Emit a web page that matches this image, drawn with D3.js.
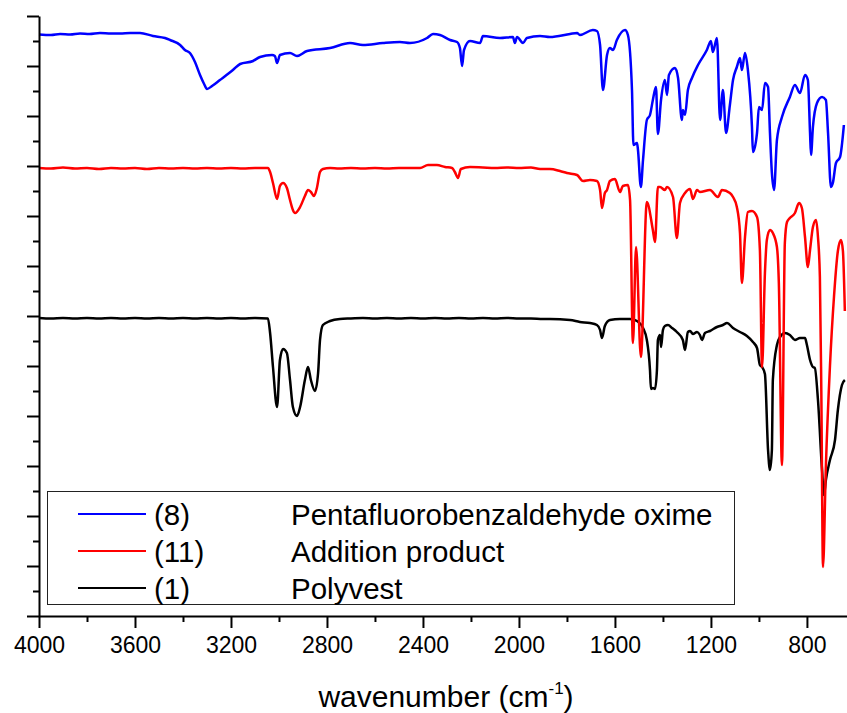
<!DOCTYPE html>
<html>
<head>
<meta charset="utf-8">
<script src="https://cdn.jsdelivr.net/npm/d3@7"></script>
<style>
  body { margin: 0; background: #fff; }
  svg { display: block; font-family: "Liberation Sans", Arial, sans-serif; }
</style>
</head>
<body>
<svg width="847" height="713"></svg>
<script>
// IR spectra, offset transmittance (arbitrary units, 1 unit = one major tick)
var xTicks = [4000, 3600, 3200, 2800, 2400, 2000, 1600, 1200, 800];

var oxime = [[4000,11.63],[3950,11.62],[3912,11.64],[3870,11.63],[3829,11.65],[3790,11.64],[3746,11.66],[3700,11.65],[3662,11.65],[3620,11.66],[3579,11.66],[3525,11.60],[3475,11.56],[3454,11.52],[3412,11.42],[3392,11.32],[3371,11.26],[3350,11.08],[3329,10.82],[3312,10.64],[3300,10.54],[3279,10.60],[3246,10.72],[3192,10.92],[3162,11.04],[3108,11.10],[3079,11.18],[3029,11.22],[3017,11.20],[3008,11.06],[2996,11.22],[2954,11.26],[2925,11.20],[2883,11.30],[2787,11.36],[2704,11.46],[2650,11.42],[2567,11.46],[2496,11.48],[2454,11.46],[2383,11.56],[2358,11.64],[2329,11.62],[2287,11.52],[2258,11.48],[2246,11.36],[2237,11.00],[2229,11.32],[2204,11.50],[2162,11.46],[2150,11.60],[2079,11.56],[2025,11.58],[2017,11.46],[2008,11.58],[1983,11.46],[1967,11.56],[1912,11.60],[1871,11.58],[1787,11.64],[1758,11.66],[1746,11.62],[1692,11.72],[1675,11.70],[1662,11.42],[1650,10.52],[1633,11.22],[1621,11.36],[1608,11.32],[1592,11.52],[1558,11.72],[1546,11.62],[1529,10.52],[1523,9.42],[1508,9.46],[1504,9.32],[1492,8.58],[1483,9.12],[1467,9.92],[1454,10.02],[1442,10.32],[1429,10.58],[1421,9.64],[1408,10.32],[1392,10.72],[1383,10.42],[1375,10.82],[1350,10.96],[1337,10.76],[1321,9.92],[1317,10.12],[1308,10.02],[1296,10.52],[1279,10.76],[1254,11.02],[1217,11.32],[1200,11.50],[1192,11.28],[1175,11.56],[1162,9.92],[1150,10.52],[1137,9.66],[1121,10.22],[1108,10.72],[1092,10.98],[1079,11.16],[1071,10.92],[1058,11.26],[1046,10.92],[1029,9.78],[1025,9.28],[1008,9.66],[1000,10.18],[987,10.12],[975,10.66],[962,10.58],[954,9.66],[946,8.86],[937,8.52],[925,9.52],[904,9.98],[871,10.38],[850,10.62],[829,10.46],[808,10.82],[796,10.72],[787,9.66],[783,9.22],[775,9.78],[758,10.26],[737,10.38],[721,10.32],[712,9.66],[700,8.58],[692,8.66],[679,9.06],[662,9.18],[646,9.82]];

var addition = [[4000,8.96],[3950,8.95],[3900,8.97],[3850,8.95],[3800,8.96],[3750,8.94],[3700,8.96],[3650,8.95],[3600,8.96],[3550,8.94],[3500,8.96],[3450,8.95],[3400,8.96],[3350,8.95],[3300,8.96],[3250,8.95],[3200,8.96],[3150,8.95],[3100,8.96],[3046,8.96],[3037,8.88],[3025,8.66],[3008,8.34],[2996,8.60],[2983,8.66],[2967,8.56],[2954,8.32],[2942,8.12],[2933,8.06],[2912,8.18],[2892,8.40],[2879,8.52],[2867,8.48],[2854,8.40],[2842,8.56],[2829,8.88],[2817,8.94],[2787,8.96],[2750,8.95],[2700,8.96],[2650,8.95],[2600,8.96],[2550,8.95],[2500,8.96],[2412,8.96],[2379,9.02],[2342,9.02],[2308,8.98],[2279,8.96],[2267,8.88],[2254,8.76],[2242,8.94],[2204,8.98],[2150,8.97],[2100,8.96],[2050,8.97],[2000,8.96],[1950,8.97],[1912,8.94],[1871,8.94],[1829,8.90],[1800,8.86],[1758,8.82],[1733,8.70],[1704,8.72],[1675,8.70],[1662,8.52],[1654,8.16],[1642,8.46],[1633,8.52],[1621,8.70],[1600,8.74],[1579,8.48],[1567,8.60],[1546,8.62],[1537,8.32],[1525,5.46],[1512,7.38],[1492,5.18],[1467,8.28],[1442,7.72],[1433,7.48],[1421,8.58],[1412,8.58],[1392,8.52],[1383,8.58],[1358,8.38],[1342,7.56],[1329,8.26],[1308,8.46],[1287,8.54],[1275,8.34],[1258,8.52],[1246,8.48],[1204,8.52],[1171,8.38],[1154,8.52],[1121,8.46],[1108,8.38],[1092,8.18],[1079,7.66],[1071,6.66],[1058,7.58],[1046,8.08],[1029,8.10],[1008,7.98],[996,7.32],[987,4.98],[975,6.86],[967,7.52],[954,7.72],[942,7.66],[925,7.38],[917,6.66],[904,3.02],[892,7.46],[883,7.88],[871,7.96],[850,8.06],[833,8.26],[821,8.16],[808,7.58],[796,6.98],[787,7.32],[775,7.78],[762,7.92],[754,7.58],[746,6.78],[740,4.50],[733,0.98],[721,3.00],[704,5.00],[687,6.40],[671,7.30],[658,7.52],[650,7.30],[642,6.10]];

var polyvest = [[4000,5.96],[3950,5.95],[3900,5.96],[3850,5.95],[3800,5.96],[3750,5.95],[3700,5.96],[3650,5.95],[3600,5.96],[3550,5.95],[3500,5.96],[3450,5.95],[3400,5.96],[3350,5.95],[3300,5.96],[3250,5.95],[3200,5.96],[3150,5.95],[3100,5.96],[3046,5.95],[3037,5.66],[3025,4.98],[3008,4.18],[2996,5.12],[2983,5.34],[2967,5.26],[2954,4.72],[2942,4.18],[2925,4.00],[2912,4.18],[2892,4.72],[2879,4.98],[2867,4.72],[2850,4.50],[2837,4.86],[2829,5.52],[2817,5.82],[2787,5.90],[2746,5.94],[2700,5.95],[2650,5.96],[2600,5.95],[2550,5.96],[2500,5.95],[2450,5.96],[2400,5.95],[2350,5.96],[2300,5.95],[2250,5.96],[2200,5.95],[2150,5.96],[2100,5.95],[2050,5.96],[2000,5.95],[1950,5.95],[1900,5.94],[1871,5.94],[1787,5.92],[1746,5.88],[1704,5.86],[1675,5.82],[1662,5.72],[1654,5.56],[1642,5.80],[1621,5.92],[1579,5.94],[1537,5.94],[1508,5.90],[1483,5.76],[1467,5.52],[1454,4.92],[1450,4.54],[1442,4.56],[1433,4.54],[1425,4.92],[1421,5.52],[1412,5.62],[1408,5.38],[1400,5.72],[1392,5.80],[1379,5.82],[1362,5.76],[1342,5.68],[1317,5.52],[1308,5.32],[1296,5.68],[1287,5.70],[1275,5.64],[1258,5.68],[1246,5.62],[1237,5.52],[1225,5.66],[1204,5.70],[1175,5.78],[1150,5.82],[1133,5.86],[1108,5.76],[1079,5.68],[1050,5.60],[1025,5.48],[1008,5.36],[996,5.02],[987,4.98],[975,4.84],[962,3.32],[954,2.92],[946,3.32],[942,4.72],[925,5.42],[912,5.58],[892,5.66],[871,5.62],[850,5.52],[829,5.56],[808,5.56],[800,5.42],[787,5.12],[775,4.98],[767,4.96],[754,4.32],[737,2.92],[729,2.42],[721,2.72],[704,3.12],[683,3.52],[671,4.12],[654,4.62],[642,4.72]];

var seriesNames = ["(8)", "(11)", "(1)"];
var seriesLabels = ["Pentafluorobenzaldehyde oxime", "Addition product", "Polyvest"];
var seriesColors = ["#0000ff", "#ff0000", "#000000"];

var svg = d3.select("svg");
var x = d3.scaleLinear().domain([4000, 633]).range([39, 847]);
var y = d3.scaleLinear().domain([0, 12]).range([616, 16]);

var line = d3.line()
	.x(function(d) { return x(d[0]); })
	.y(function(d) { return y(d[1]); })
	.curve(d3.curveMonotoneX);

// spectra, bottom one first
[polyvest, addition, oxime].forEach(function(s, i) {
	svg.append("path")
		.datum(s)
		.attr("fill", "none")
		.attr("stroke", ["#000000", "#ff0000", "#0000ff"][i])
		.attr("stroke-width", 2.5)
		.attr("stroke-linejoin", "round")
		.attr("d", line);
});

// x axis: minor then major
svg.append("g")
	.attr("transform", "translate(0,616)")
	.call(d3.axisBottom(x).tickValues(d3.range(3800, 600, -400)).tickSize(6).tickSizeOuter(0).tickFormat(""))
	.call(g => g.select(".domain").remove())
	.selectAll("line").attr("stroke-width", 2);
var gx = svg.append("g")
	.attr("transform", "translate(0,616)")
	.call(d3.axisBottom(x).tickValues(xTicks).tickSize(12).tickPadding(9).tickSizeOuter(0).tickFormat(d3.format("d")));
gx.select(".domain").attr("stroke-width", 2);
gx.selectAll("line").attr("stroke-width", 2);
gx.selectAll("text").attr("font-size", 23).attr("font-family", "Liberation Sans, Arial, sans-serif");

// y axis: no labels
svg.append("g")
	.attr("transform", "translate(39,0)")
	.call(d3.axisLeft(y).tickValues(d3.range(0.5, 12, 1)).tickSize(6).tickSizeOuter(0).tickFormat(""))
	.call(g => g.select(".domain").remove())
	.selectAll("line").attr("stroke-width", 2);
var gy = svg.append("g")
	.attr("transform", "translate(39,0)")
	.call(d3.axisLeft(y).tickValues(d3.range(0, 13, 1)).tickSize(12).tickSizeOuter(0).tickFormat(""));
gy.select(".domain").attr("stroke-width", 2);
gy.selectAll("line").attr("stroke-width", 2);

// axis title
var title = svg.append("text")
	.attr("x", 446).attr("y", 707)
	.attr("text-anchor", "middle")
	.attr("font-size", 30);
title.append("tspan").text("wavenumber (cm");
title.append("tspan").attr("font-size", 17).attr("dy", -13).text("-1");
title.append("tspan").attr("dy", 13).text(")");

// legend
svg.append("rect")
	.attr("x", 47.5).attr("y", 491.5)
	.attr("width", 687).attr("height", 113)
	.attr("fill", "none")
	.attr("stroke", "#222").attr("stroke-width", 1);
var legendRows = [514, 551, 588];
seriesNames.forEach(function(n, i) {
	var ly = legendRows[i];
	svg.append("line")
		.attr("x1", 78).attr("x2", 146)
		.attr("y1", ly).attr("y2", ly)
		.attr("stroke", seriesColors[i]).attr("stroke-width", 2);
	svg.append("text").attr("x", 154).attr("y", ly + 11)
		.attr("font-size", 29.5).text(n);
	svg.append("text").attr("x", 291).attr("y", ly + 11)
		.attr("font-size", 29.5).text(seriesLabels[i]);
});
</script>
</body>
</html>
